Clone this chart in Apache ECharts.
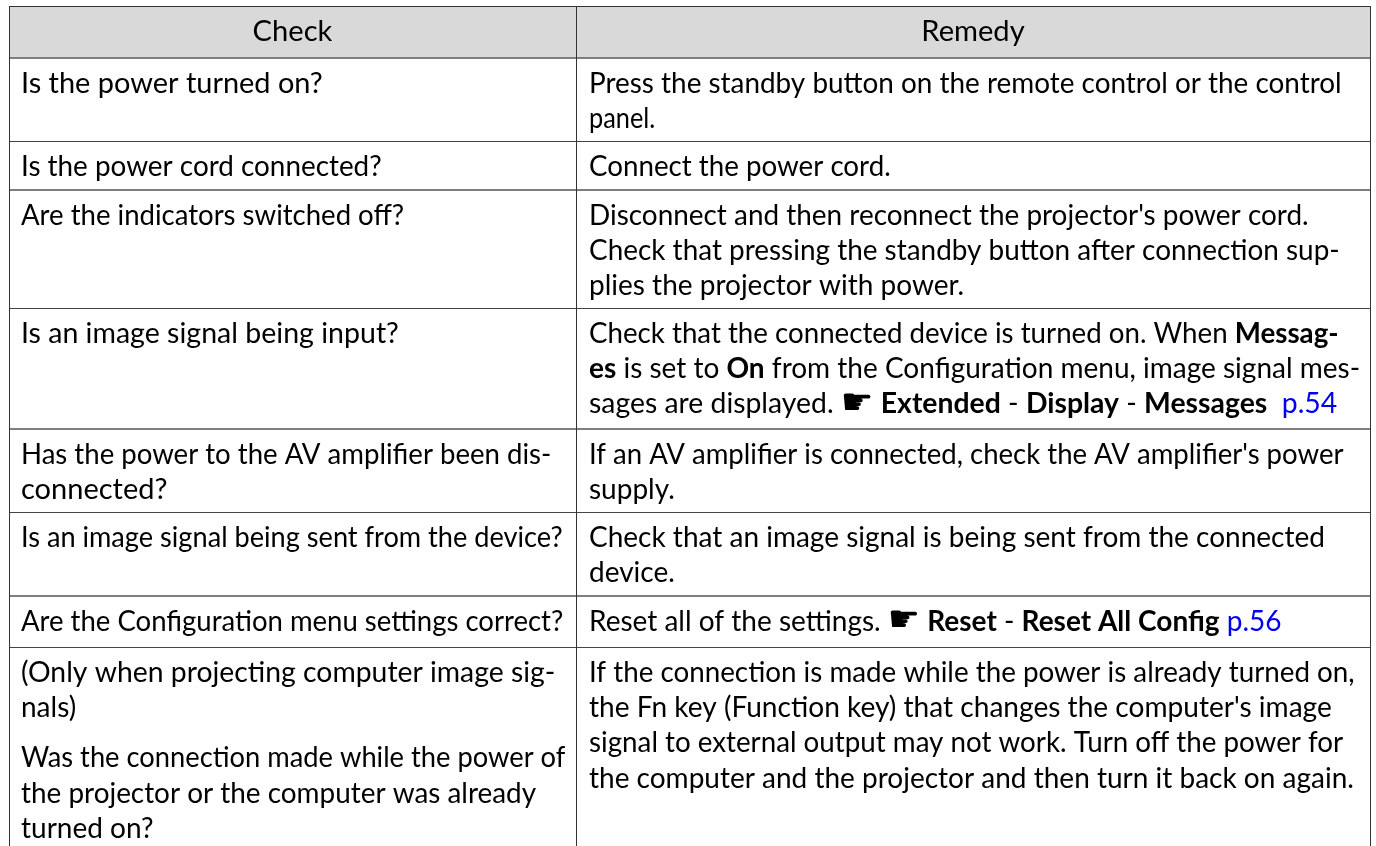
<!DOCTYPE html>
<html><head><meta charset="utf-8">
<style>html,body{margin:0;padding:0;background:#fff}#c{width:1376px;height:846px}</style>
<script src="https://cdn.jsdelivr.net/npm/echarts@6/dist/echarts.min.js"></script>
</head><body><div id="c"></div>
<script>
const headers = ["Check","Remedy"];
const checks = [
 ["Is the power turned on?"],
 ["Is the power cord connected?"],
 ["Are the indicators switched off?"],
 ["Is an image signal being input?"],
 ["Has the power to the AV amplifier been dis-","connected?"],
 ["Is an image signal being sent from the device?"],
 ["Are the Configuration menu settings correct?"],
 ["(Only when projecting computer image sig-","nals)","","Was the connection made while the power of","the projector or the computer was already","turned on?"]
];
const remedies = [
 ["Press the standby button on the remote control or the control","panel."],
 ["Connect the power cord."],
 ["Disconnect and then reconnect the projector's power cord.","Check that pressing the standby button after connection sup-","plies the projector with power."],
 ["Check that the connected device is turned on. When {b|Messag-}","{b|es} is set to {b|On} from the Configuration menu, image signal mes-","sages are displayed. {h|\u261B} {b|Extended} - {b|Display} - {b|Messages}  {l|p.54}"],
 ["If an AV amplifier is connected, check the AV amplifier's power","supply."],
 ["Check that an image signal is being sent from the connected","device."],
 ["Reset all of the settings. {h|\u261B} {b|Reset} - {b|Reset All Config} {l|p.56}"],
 ["If the connection is made while the power is already turned on,","the Fn key (Function key) that changes the computer's image","signal to external output may not work. Turn off the power for","the computer and the projector and then turn it back on again."]
];
// layout only: horizontal fit of each rendered line
const checkFit = [[1.033],[0.995],[0.984],[1.019],[0.985,1.036],[0.97],[0.983],[1.012,1,0,0.975,0.996,1]];
const remedyFit = [[0.996,0.905],[0.99],[0.997,0.997,1],[0.989,1,1.013],[0.984,1],[1,1],[1],[0.992,1.003,0.991,1]];
const rowEdges = [6,58,141,190,308,429,512,596,647,846];
const softRows = [58,190,429,596];
const colEdges = [9,576,1370];
const FONT='Lato', SIZE=28, PITCH=35.2;
const rich={
 b:{fontFamily:FONT,fontSize:SIZE,fontWeight:'bold',fill:'#000'},
 h:{fontFamily:'DejaVu Sans',fontSize:36,fill:'#000'},
 l:{fontFamily:FONT,fontSize:SIZE,fill:'#0000ee'}
};
const g=[];
const W=colEdges[2]-colEdges[0]+1;
g.push({type:'rect',shape:{x:colEdges[0],y:rowEdges[0],width:W,height:rowEdges[1]-rowEdges[0]},style:{fill:'#d9d9d9'}});
rowEdges.slice(0,-1).forEach((y,i)=>{
  const soft=softRows.includes(y);
  g.push({type:'rect',shape:{x:colEdges[0],y:soft?y-1:y,width:W,height:soft?2:1},style:{fill:soft?'#7f7f7f':(i===0?'#333':'#444')}});
});
colEdges.forEach(x=>g.push({type:'rect',shape:{x:x,y:rowEdges[0],width:1,height:846-rowEdges[0]},style:{fill:'#333'}}));
function txt(s,x,y,sx,opt){g.push({type:'text',x:x,y:y,scaleX:sx,style:Object.assign({text:s,rich:rich,fontFamily:FONT,fontSize:SIZE,fill:'#000',verticalAlign:'middle',align:'left'},opt||{})});}
headers.forEach((h,i)=>txt(h,(colEdges[i]+colEdges[i+1])/2,32,1.04,{align:'center'}));
function cell(lines,fits,x,r){let y=rowEdges[r+1]+26;lines.forEach((l,k)=>{if(l===''){y+=15;return;}txt(l,x,y,fits[k]);y+=PITCH;});}
checks.forEach((c,r)=>cell(c,checkFit[r],21,r));
remedies.forEach((c,r)=>cell(c,remedyFit[r],589,r));
const chart=echarts.init(document.getElementById('c'),null,{renderer:'canvas'});
chart.setOption({animation:false,backgroundColor:'#fff',graphic:{elements:g}});
</script></body></html>
